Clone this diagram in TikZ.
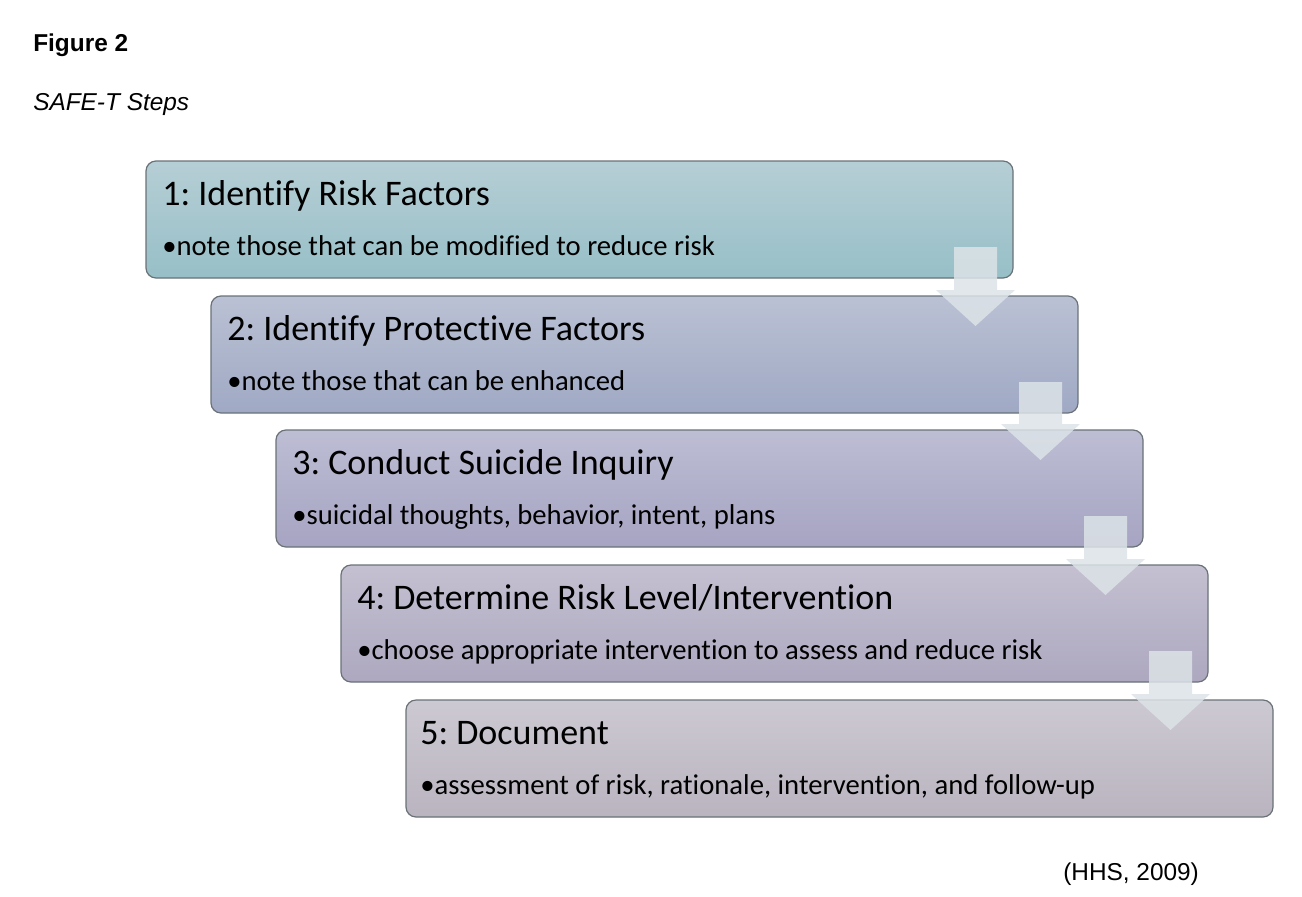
\documentclass[tikz,border=0pt]{standalone}
\usepackage{fontspec}
\setmainfont[Ligatures=NoCommon]{Carlito}
\newfontfamily\arialfont{Liberation Sans}
\usetikzlibrary{calc}
\frenchspacing
\definecolor{bordc}{HTML}{6A7278}
\definecolor{arrc}{HTML}{DCE3E7}
\definecolor{topA}{HTML}{B6CED5}\definecolor{botA}{HTML}{97BFC7}
\definecolor{topB}{HTML}{BAC1D4}\definecolor{botB}{HTML}{A0A9C4}
\definecolor{topC}{HTML}{BDBDD4}\definecolor{botC}{HTML}{A6A4C2}
\definecolor{topD}{HTML}{C4C0D1}\definecolor{botD}{HTML}{ADA8BF}
\definecolor{topE}{HTML}{CDC9D2}\definecolor{botE}{HTML}{B9B4BF}
\tikzset{
  stepbox/.style={draw=bordc, line width=0.9pt, rounded corners=7.5pt, shading=axis, shading angle=0},
  ttl/.style={anchor=base west, inner sep=0pt, font=\fontsize{27}{30}\selectfont},
  bodytxt/.style={anchor=base west, inner sep=0pt, font=\fontsize{21.5}{24}\selectfont},
  captxt/.style={anchor=base west, inner sep=0pt, font=\arialfont\fontsize{18.3}{20}\selectfont},
  flowarrow/.style={fill=arrc, draw=none, fill opacity=0.85}
}
\begin{document}
\begin{tikzpicture}[x=0.75pt,y=-0.75pt]
\path[use as bounding box, fill=white] (0,0) rectangle (1302,896);
\node[captxt, font=\arialfont\bfseries\fontsize{18.3}{20}\selectfont] (fig) at (33,51) {Figure 2};
\node[captxt, font=\arialfont\itshape\fontsize{18.3}{20}\selectfont] (sub) at (33,110) {SAFE-T Steps};
% boxes
\foreach \i/\L/\T/\ct/\cb in {1/146/161/topA/botA, 2/211/296/topB/botB, 3/276/430/topC/botC, 4/341/565/topD/botD, 5/406/700/topE/botE}{
  \draw[stepbox, top color=\ct, bottom color=\cb] (\L,\T) rectangle ++(867,117);
  \coordinate (b\i-tl) at (\L,\T);
  \coordinate (b\i-br) at (\L+867,\T+117);
}
% arrows
\foreach \i/\j in {1/2,2/3,3/4,4/5}{
  \path let \p1=(b\i-br), \p2=(b\j-tl) in
    coordinate (a\i) at (\x1-37.5*0.75pt, \y1+31*0.75pt)
    coordinate (h\i) at (\x1-37.5*0.75pt, \y2+6*0.75pt)
    coordinate (t\i) at (\x1-37.5*0.75pt, \y2-30*0.75pt);
  \fill[flowarrow] ($(a\i)+(-21.5,0)$) -- ($(a\i)+(21.5,0)$) -- ($(h\i)+(21.5,0)$) -- ($(h\i)+(39.5,0)$)
     -- (t\i) -- ($(h\i)+(-39.5,0)$) -- ($(h\i)+(-21.5,0)$) -- cycle;
}
% texts
\node[ttl] (t1) at (162,205) {1: Identify Risk Factors};
\node[bodytxt] (s1) at (162,255) {•note those that can be modified to reduce risk};
\node[ttl] (t2) at (227,340) {2: Identify Protective Factors};
\node[bodytxt] (s2) at (227,390) {•note those that can be enhanced};
\node[ttl] (t3) at (292,474) {3: Conduct Suicide Inquiry};
\node[bodytxt] (s3) at (292,524) {•suicidal thoughts, behavior, intent, plans};
\node[ttl] (t4) at (357,609) {4: Determine Risk Level/Intervention};
\node[bodytxt] (s4) at (357,659) {•choose appropriate intervention to assess and reduce risk};
\node[ttl] (t5) at (420,744) {5: Document};
\node[bodytxt] (s5) at (420,794) {•assessment of risk, rationale, intervention, and follow-up};
\node[captxt] (src) at (1063,880) {(HHS, 2009)};
\end{tikzpicture}
\end{document}
